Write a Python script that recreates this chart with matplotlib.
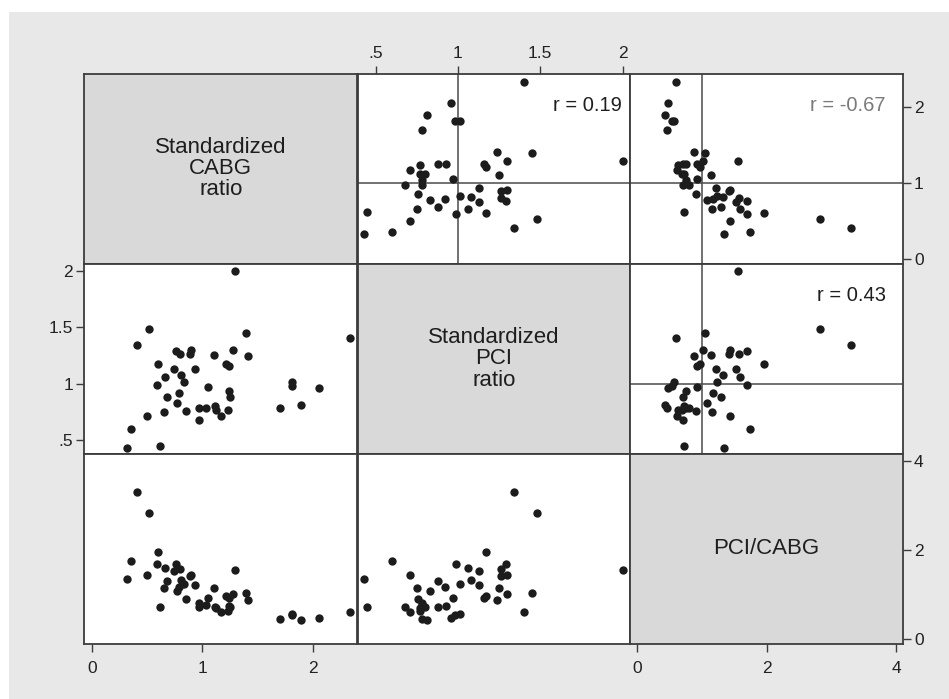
import matplotlib.pyplot as plt
from matplotlib.patches import Rectangle

plt.rcParams["font.family"] = ["Liberation Sans", "DejaVu Sans"]

cabg = [1.29, 0.52, 0.41, 1.39, 2.33, 1.41, 1.28, 1.10, 0.90, 0.89,
        0.76, 0.80, 0.60, 0.74, 0.93, 1.21, 1.24, 0.66, 0.81, 0.83,
        0.59, 1.05, 0.79, 0.68, 1.24, 1.25, 0.77, 0.65, 0.85, 0.50,
        0.97, 1.03, 1.11, 1.12, 1.23, 1.17, 0.97, 0.35, 0.32, 0.62,
        1.70, 1.81, 1.81, 1.89, 2.05]
pci = [2.00, 1.48, 1.34, 1.45, 1.40, 1.24, 1.30, 1.25, 1.30, 1.26,
       1.29, 1.26, 1.17, 1.13, 1.13, 1.17, 1.16, 1.06, 1.08, 1.01,
       0.99, 0.97, 0.92, 0.88, 0.93, 0.88, 0.83, 0.75, 0.76, 0.71,
       0.78, 0.78, 0.80, 0.77, 0.77, 0.71, 0.68, 0.60, 0.43, 0.45,
       0.78, 1.01, 0.98, 0.81, 0.96]
pci_cabg = [1.55, 2.83, 3.30, 1.04, 0.60, 0.87, 1.02, 1.14, 1.44, 1.41,
            1.69, 1.57, 1.96, 1.53, 1.21, 0.97, 0.93, 1.59, 1.33, 1.23,
            1.69, 0.92, 1.17, 1.30, 0.75, 0.71, 1.07, 1.15, 0.90, 1.43,
            0.80, 0.76, 0.72, 0.69, 0.63, 0.61, 0.71, 1.75, 1.34, 0.72,
            0.46, 0.56, 0.54, 0.43, 0.47]

var_labels = ["Standardized\nCABG\nratio", "Standardized\nPCI\nratio", "PCI/CABG"]
tick_values = [[0, 1, 2], [0.5, 1, 1.5, 2], [0, 2, 4]]
r_labels = {(0, 1): "r = 0.19", (0, 2): "r = -0.67", (1, 2): "r = 0.43"}
r_colors = {(0, 1): "#1e1e1e", (0, 2): "#7a7a7a", (1, 2): "#1e1e1e"}

data = [cabg, pci, pci_cabg]
xlims = [(-0.07, 2.40), (0.39, 2.045), (-0.113, 4.108)]
ylims = [(-0.063, 2.437), (0.376, 2.064), (-0.11, 4.15)]

W, H = 949, 699
col_edges = [84, 357.5, 630, 903]
row_edges = [73.5, 263.5, 454, 644]
line_col = "#3c3c3c"


def fmt_tick(v):
    s = ("%g" % v)
    return s[1:] if s.startswith("0.") else s


fig = plt.figure(figsize=(W / 100, H / 100), dpi=100, facecolor="white")
fig.patches.append(Rectangle((9 / W, 0), 1, 1 - 12 / H, transform=fig.transFigure,
                             facecolor="#e8e8e8", edgecolor="none", zorder=-10))

for i in range(3):
    for j in range(3):
        left = col_edges[j] / W
        bottom = 1 - row_edges[i + 1] / H
        w = (col_edges[j + 1] - col_edges[j]) / W
        h = (row_edges[i + 1] - row_edges[i]) / H
        ax = fig.add_axes([left, bottom, w, h])
        ax.set_xlim(*xlims[j])
        ax.set_ylim(*ylims[i])
        for sp in ax.spines.values():
            sp.set_color(line_col)
            sp.set_linewidth(1.3)

        if i == j:
            ax.set_facecolor("#d9d9d9")
            ax.text(0.5, 0.5, var_labels[i], transform=ax.transAxes, ha="center",
                    va="center", fontsize=16, color="#1e1e1e", linespacing=1.02)
        else:
            ax.set_facecolor("white")
            if j > i:
                ax.axvline(1, color="#4a4a4a", lw=1.1, zorder=1)
                ax.axhline(1, color="#4a4a4a", lw=1.1, zorder=1)
                ax.text(0.97 if j == 1 else 0.937, 0.832, r_labels[(i, j)],
                        transform=ax.transAxes, ha="right", va="center",
                        fontsize=14.5, color=r_colors[(i, j)])
            ax.scatter(data[j], data[i], s=36, color="#1c1c1c", linewidths=0, zorder=3)

        # Stata style alternating axes
        ax.set_xticks([])
        ax.set_yticks([])
        ax.tick_params(length=6, width=1, color=line_col, labelsize=12.5,
                       labelcolor="#222222", pad=2)
        y_side = "right" if i % 2 == 0 else "left"
        x_side = "bottom" if j % 2 == 0 else "top"
        if (y_side == "right" and j == 2) or (y_side == "left" and j == 0):
            ax.set_yticks(tick_values[i])
            ax.set_yticklabels([fmt_tick(v) for v in tick_values[i]])
            ax.yaxis.set_ticks_position(y_side)
        if (x_side == "bottom" and i == 2) or (x_side == "top" and i == 0):
            ax.set_xticks(tick_values[j])
            ax.set_xticklabels([fmt_tick(v) for v in tick_values[j]])
            ax.xaxis.set_ticks_position(x_side)
            ax.tick_params(axis="x", pad=6 if x_side == "bottom" else 3)

fig.savefig("out.png", dpi=100, facecolor=fig.get_facecolor())
